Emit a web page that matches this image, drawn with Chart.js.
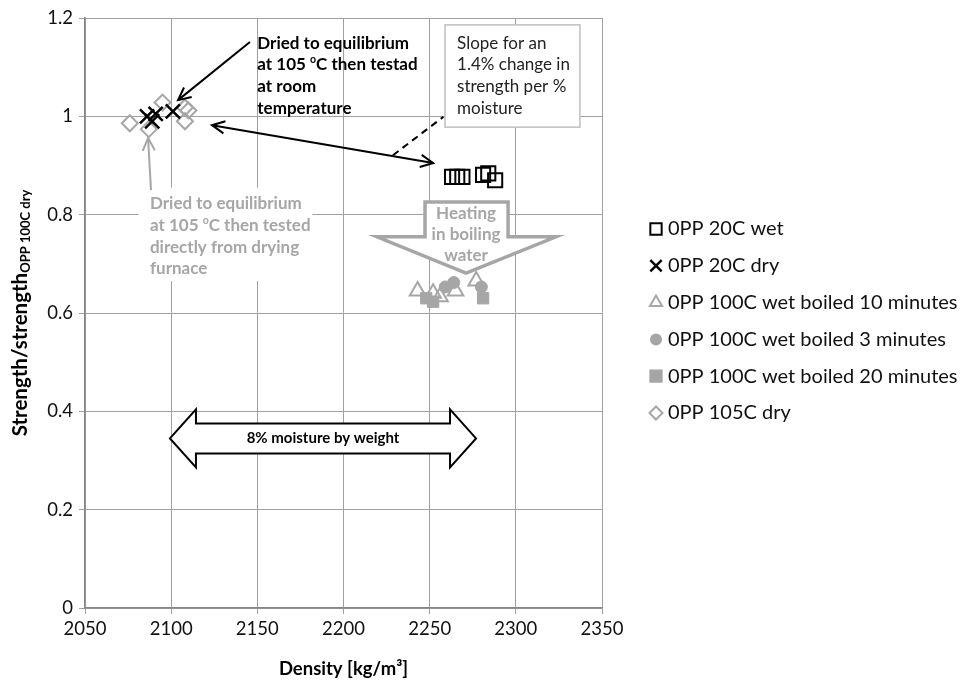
<!DOCTYPE html>
<html>
<head>
<meta charset="utf-8">
<script src="https://cdn.jsdelivr.net/npm/chart.js@4.4.0/dist/chart.umd.min.js"></script>
<style>
  html, body { margin: 0; padding: 0; background: #fff; }
</style>
</head>
<body>
<canvas id="chart" width="970" height="684"></canvas>
<script>
const FONT = 'Lato, "Open Sans", sans-serif';
const GREY = '#a6a6a6';

// axis ranges / ticks
const densityTicks = [2050, 2100, 2150, 2200, 2250, 2300, 2350];
const strengthTicks = [0, 0.2, 0.4, 0.6, 0.8, 1, 1.2];

// series names
const seriesNames = [
  '0PP 20C wet',
  '0PP 20C dry',
  '0PP 100C wet boiled 10 minutes',
  '0PP 100C wet boiled 3 minutes',
  '0PP 100C wet boiled 20 minutes',
  '0PP 105C dry'
];

// values
const wet20Density = [2263, 2266, 2269, 2281, 2284, 2288];
const wet20Strength = [0.877, 0.877, 0.877, 0.881, 0.884, 0.870];

const dry20Density = [2086, 2089, 2091, 2101];
const dry20Strength = [1.0, 0.99, 1.005, 1.01];

const boiled10Density = [2243, 2252, 2256, 2265, 2277];
const boiled10Strength = [0.645, 0.640, 0.633, 0.645, 0.665];

const boiled3Density = [2259, 2264, 2280];
const boiled3Strength = [0.653, 0.662, 0.653];

const boiled20Density = [2248, 2252, 2281];
const boiled20Strength = [0.630, 0.623, 0.630];

const dry105Density = [2076, 2087, 2095, 2108, 2110, 2108];
const dry105Strength = [0.986, 0.974, 1.028, 1.018, 1.012, 0.990];

const pts = (xs, ys) => xs.map((x, i) => ({ x: x, y: ys[i] }));

const datasets = [
  { label: seriesNames[0], data: pts(wet20Density, wet20Strength), pointStyle: 'rect', pointRadius: 10,
    borderColor: '#000', backgroundColor: 'rgba(0,0,0,0)', pointBorderWidth: 2 },
  { label: seriesNames[1], data: pts(dry20Density, dry20Strength), pointStyle: 'crossRot', pointRadius: 10,
    borderColor: '#000', backgroundColor: '#000', pointBorderWidth: 2.5 },
  { label: seriesNames[2], data: pts(boiled10Density, boiled10Strength), pointStyle: 'triangle', pointRadius: 9,
    borderColor: GREY, backgroundColor: 'rgba(0,0,0,0)', pointBorderWidth: 2 },
  { label: seriesNames[3], data: pts(boiled3Density, boiled3Strength), pointStyle: 'circle', pointRadius: 6,
    borderColor: GREY, backgroundColor: GREY, pointBorderWidth: 1 },
  { label: seriesNames[4], data: pts(boiled20Density, boiled20Strength), pointStyle: 'rect', pointRadius: 8,
    borderColor: GREY, backgroundColor: GREY, pointBorderWidth: 1 },
  { label: seriesNames[5], data: pts(dry105Density, dry105Strength), pointStyle: 'rectRot', pointRadius: 8,
    borderColor: GREY, backgroundColor: 'rgba(0,0,0,0)', pointBorderWidth: 2 }
];

// draws text pieces, some raised as superscript / lowered as subscript
function drawRich(ctx, parts, x, y, size, weight, color, align, subSize) {
  ctx.save();
  ctx.fillStyle = color;
  ctx.textBaseline = 'middle';
  ctx.textAlign = 'left';
  const sz = p => p[1] ? (subSize || size * 0.62) : size;
  let total = 0;
  parts.forEach(p => {
    ctx.font = weight + ' ' + sz(p) + 'px ' + FONT;
    total += ctx.measureText(p[0]).width;
  });
  let cx = align === 'center' ? x - total / 2 : x;
  parts.forEach(p => {
    ctx.font = weight + ' ' + sz(p) + 'px ' + FONT;
    const dy = p[1] === 'sup' ? -size * 0.3 : p[1] === 'sub' ? size * 0.28 : 0;
    ctx.fillText(p[0], cx, y + dy);
    cx += ctx.measureText(p[0]).width;
  });
  ctx.restore();
  return total;
}

function arrowHead(ctx, x1, y1, x2, y2, len) {
  const a = Math.atan2(y2 - y1, x2 - x1);
  ctx.beginPath();
  ctx.moveTo(x2 - len * Math.cos(a - 0.45), y2 - len * Math.sin(a - 0.45));
  ctx.lineTo(x2, y2);
  ctx.lineTo(x2 - len * Math.cos(a + 0.45), y2 - len * Math.sin(a + 0.45));
  ctx.stroke();
}

const annotations = {
  id: 'annotations',
  afterDraw(chart) {
    const ctx = chart.ctx;
    const X = v => chart.scales.x.getPixelForValue(v);
    const Y = v => chart.scales.y.getPixelForValue(v);
    const area = chart.chartArea;

    // y axis title with subscript
    ctx.save();
    ctx.translate(20, (area.top + area.bottom) / 2);
    ctx.rotate(-Math.PI / 2);
    drawRich(ctx, [['Strength/strength', null], ['OPP 100C dry', 'sub']], 0, 0, 20.5, 'bold', '#000', 'center', 13);
    ctx.restore();

    // black note + arrow
    const lh = 21.7;
    const blackLines = [
      [['Dried to equilibrium', null]],
      [['at 105 ', null], ['o', 'sup'], ['C then testad', null]],
      [['at room', null]],
      [['temperature', null]]
    ];
    blackLines.forEach((l, i) => drawRich(ctx, l, X(2150), Y(1.149) + i * lh, 17, 'bold', '#000', 'left'));

    ctx.save();
    ctx.strokeStyle = '#000';
    ctx.lineWidth = 2;
    let x1 = X(2145.7), y1 = Y(1.151), x2 = X(2104), y2 = Y(1.033);
    ctx.beginPath(); ctx.moveTo(x1, y1); ctx.lineTo(x2, y2); ctx.stroke();
    arrowHead(ctx, x1, y1, x2, y2, 14);

    // double-headed arrow between dry and wet clusters
    x1 = X(2123.7); y1 = Y(0.982); x2 = X(2252); y2 = Y(0.905);
    ctx.beginPath(); ctx.moveTo(x1, y1); ctx.lineTo(x2, y2); ctx.stroke();
    arrowHead(ctx, x1, y1, x2, y2, 14);
    arrowHead(ctx, x2, y2, x1, y1, 14);

    // dashed slope line
    ctx.setLineDash([7, 5]);
    ctx.beginPath(); ctx.moveTo(X(2228.7), Y(0.921)); ctx.lineTo(X(2258), Y(0.999)); ctx.stroke();
    ctx.setLineDash([]);
    ctx.restore();

    // slope box
    ctx.save();
    const bx = X(2258.9), by = Y(1.186), bw = X(2337.2) - bx, bh = Y(0.978) - by;
    ctx.fillStyle = '#fff';
    ctx.fillRect(bx, by, bw, bh);
    ctx.strokeStyle = '#bfbfbf';
    ctx.lineWidth = 1.5;
    ctx.strokeRect(bx, by, bw, bh);
    ctx.restore();
    ['Slope for an', '1.4% change in', 'strength per %', 'moisture'].forEach((t, i) =>
      drawRich(ctx, [[t, null]], X(2265.9), Y(1.149) + i * lh, 17, 'normal', '#222', 'left'));

    // grey note with white backing + arrow
    ctx.save();
    ctx.fillStyle = '#fff';
    ctx.fillRect(X(2081), Y(0.855), X(2182) - X(2081), Y(0.665) - Y(0.855));
    ctx.restore();
    const greyLines = [
      [['Dried to equilibrium', null]],
      [['at 105 ', null], ['o', 'sup'], ['C then tested', null]],
      [['directly from drying', null]],
      [['furnace', null]]
    ];
    greyLines.forEach((l, i) => drawRich(ctx, l, X(2087.7), Y(0.822) + i * lh, 17, 'bold', GREY, 'left'));
    ctx.save();
    ctx.strokeStyle = GREY;
    ctx.lineWidth = 2;
    x1 = X(2088.3); y1 = Y(0.850); x2 = X(2086.6); y2 = Y(0.956);
    ctx.beginPath(); ctx.moveTo(x1, y1); ctx.lineTo(x2, y2); ctx.stroke();
    arrowHead(ctx, x1, y1, x2, y2, 14);
    ctx.restore();

    // heating block arrow
    ctx.save();
    const sl = X(2247.3), sr = X(2295.5), st = Y(0.826), sh = Y(0.755);
    const wl = X(2219.4), wr = X(2323.3), tx = X(2271.1), ty = Y(0.681);
    ctx.beginPath();
    ctx.moveTo(sl, st); ctx.lineTo(sr, st); ctx.lineTo(sr, sh); ctx.lineTo(wr, sh);
    ctx.lineTo(tx, ty); ctx.lineTo(wl, sh); ctx.lineTo(sl, sh); ctx.closePath();
    ctx.fillStyle = '#fff';
    ctx.fill();
    ctx.strokeStyle = GREY;
    ctx.lineWidth = 3.5;
    ctx.stroke();
    ctx.restore();
    ['Heating', 'in boiling', 'water'].forEach((t, i) =>
      drawRich(ctx, [[t, null]], X(2271.1), Y(0.803) + i * 21, 17, 'bold', GREY, 'center'));

    // 8% moisture block double arrow
    ctx.save();
    const ax1 = X(2099.3), ax2 = X(2276.9), ay = Y(0.345);
    const h = 15, H = 29, L = 26;
    ctx.beginPath();
    ctx.moveTo(ax1, ay);
    ctx.lineTo(ax1 + L, ay - H); ctx.lineTo(ax1 + L, ay - h);
    ctx.lineTo(ax2 - L, ay - h); ctx.lineTo(ax2 - L, ay - H);
    ctx.lineTo(ax2, ay);
    ctx.lineTo(ax2 - L, ay + H); ctx.lineTo(ax2 - L, ay + h);
    ctx.lineTo(ax1 + L, ay + h); ctx.lineTo(ax1 + L, ay + H);
    ctx.closePath();
    ctx.fillStyle = '#fff';
    ctx.fill();
    ctx.strokeStyle = '#000';
    ctx.lineWidth = 2;
    ctx.stroke();
    ctx.restore();
    drawRich(ctx, [['8% moisture by weight', null]], (ax1 + ax2) / 2, ay, 15, 'bold', '#000', 'center');

    // legend
    chart.data.datasets.forEach((ds, i) => {
      const ly = 229 + i * 36.8;
      ctx.save();
      ctx.fillStyle = ds.backgroundColor;
      ctx.strokeStyle = ds.borderColor;
      ctx.lineWidth = ds.pointStyle === 'crossRot' ? 2.5 : 2;
      const r = ds.pointStyle === 'circle' ? 5 : ds.pointStyle === 'triangle' ? 7 : ds.pointStyle === 'crossRot' ? 8 : ds.pointStyle === 'rectRot' ? 6.5 : 8;
      Chart.helpers.drawPoint(ctx, { pointStyle: ds.pointStyle, rotation: 0, radius: r, borderWidth: ctx.lineWidth }, 656, ly);
      ctx.restore();
      drawRich(ctx, [[ds.label, null]], 668, ly, 20, 'normal', '#111', 'left');
    });
  }
};

new Chart(document.getElementById('chart'), {
  type: 'scatter',
  data: { datasets: datasets },
  options: {
    responsive: false,
    animation: false,
    layout: { padding: { top: 18, right: 368, left: 0, bottom: 0 } },
    plugins: { legend: { display: false }, tooltip: { enabled: false } },
    scales: {
      x: {
        type: 'linear',
        min: densityTicks[0],
        max: densityTicks[densityTicks.length - 1],
        afterBuildTicks: s => { s.ticks = densityTicks.map(v => ({ value: v })); },
        afterFit: s => { s.height = 76; },
        ticks: { font: { family: FONT, size: 18.5 }, color: '#111', padding: 4, callback: v => String(v) },
        grid: { color: '#a0a0a0', tickLength: 6 },
        border: { color: '#868686', width: 1.5 },
        title: { display: true, text: 'Density [kg/m³]', font: { family: FONT, size: 18.5, weight: 'bold' }, color: '#000' }
      },
      y: {
        min: strengthTicks[0],
        max: strengthTicks[strengthTicks.length - 1],
        afterBuildTicks: s => { s.ticks = strengthTicks.map(v => ({ value: v })); },
        afterFit: s => { s.width = 85; },
        ticks: { font: { family: FONT, size: 18.5 }, color: '#111', padding: 6, callback: v => String(v) },
        grid: { color: '#a0a0a0', tickLength: 6 },
        border: { color: '#868686', width: 1.5 }
      }
    }
  },
  plugins: [annotations]
});
</script>
</body>
</html>
